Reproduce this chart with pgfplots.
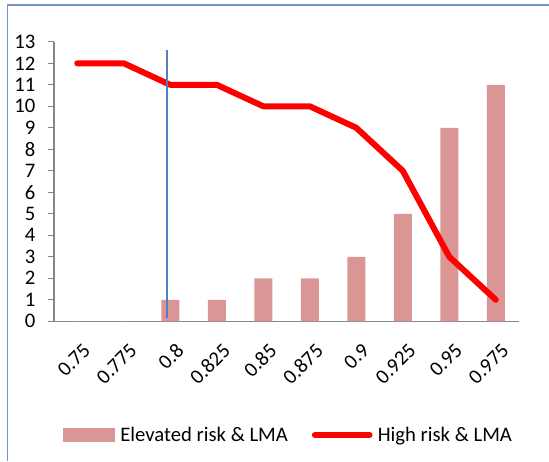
\documentclass[border=0pt]{standalone}
\usepackage{pgfplots}
\pgfplotsset{compat=1.18}
\usepackage{fontspec}
\setmainfont{Carlito}

\definecolor{barcol}{RGB}{217,150,148}
\definecolor{framecol}{RGB}{115,150,200}
\definecolor{refline}{RGB}{79,129,189}
\definecolor{axcol}{RGB}{134,134,134}

\begin{document}
\begin{tikzpicture}
	% page size 549 x 461 px, 1px = 0.75pt
	\useasboundingbox (0,0) rectangle (411.75pt,345.75pt);
	\draw[framecol, line width=1.2pt] (5.5pt,0pt) -- (5.5pt,342pt) -- (411.75pt,342pt);
	\begin{axis}[
		at={(40.5pt,104.8pt)},
		anchor=south west,
		scale only axis,
		width=348.75pt,
		height=209.6pt,
		xmin=-0.5, xmax=9.5,
		ymin=0, ymax=13,
		axis lines=left,
		axis line style={-, axcol, line width=0.9pt},
		tick style={axcol, line width=0.9pt},
		tick align=outside,
		major tick length=4.5pt,
		xtick={0,...,9},
		xticklabels={0.75,0.775,0.8,0.825,0.85,0.875,0.9,0.925,0.95,0.975},
		x tick style={draw=none},
		extra x ticks={-0.5,0.5,1.5,2.5,3.5,4.5,5.5,6.5,7.5,8.5,9.5},
		extra x tick labels={},
		extra x tick style={tick style={axcol, line width=0.9pt}},
		ytick={0,1,...,13},
		font=\fontsize{15.5}{17}\selectfont,
		tick label style={font=\fontsize{15.5}{17}\selectfont},
		/pgf/number format/assume math mode=true,
		xticklabel style={rotate=45, anchor=north east, xshift=-2pt, yshift=-7pt},
		yticklabel style={xshift=-6pt},
		legend columns=2,
		legend style={at={(0.505,-0.407)}, anchor=center, draw=none, fill=none,
			font=\fontsize{15.5}{17}\selectfont, column sep=2pt,
			/tikz/every even column/.append style={column sep=16pt}},
	]
		\addplot[ybar, bar width=13.5pt, fill=barcol, draw=none,
			legend image code/.code={\fill[barcol] (0pt,-4.9pt) rectangle (39pt,4.9pt);}]
			coordinates {(0,0) (1,0) (2,1) (3,1) (4,2) (5,2) (6,3) (7,5) (8,9) (9,11)};
		\addlegendentry{Elevated risk \& LMA}
		\addplot[red, line width=4.5pt, line join=round, line cap=round,
			legend image code/.code={\draw[red, line width=4.5pt, line cap=round] (0pt,0pt) -- (41pt,0pt);}]
			coordinates {(0,12) (1,12) (2,11) (3,11) (4,10) (5,10) (6,9) (7,7) (8,3) (9,1)};
		\addlegendentry{High risk \& LMA}
		\addplot[refline, line width=0.8pt, forget plot]
			coordinates {(1.93,0.15) (1.93,12.6)};
	\end{axis}
\end{tikzpicture}
\end{document}
